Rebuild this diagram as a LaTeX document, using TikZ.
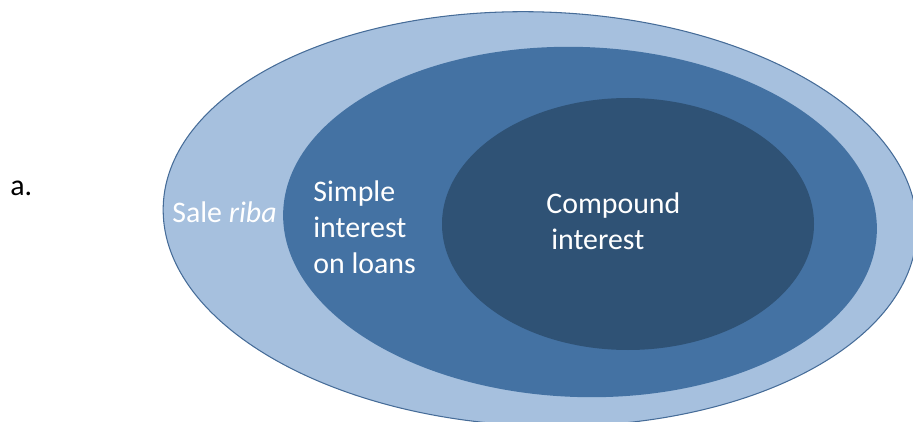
\documentclass[tikz,border=0pt]{standalone}
\usepackage{fontspec}
\setmainfont{Carlito}
\usepackage{xcolor}
\definecolor{ribaLight}{RGB}{166,192,222}
\definecolor{ribaMid}{RGB}{68,114,163}
\definecolor{ribaDark}{RGB}{47,82,117}
\definecolor{ribaLine}{RGB}{70,108,152}
\tikzset{
  lbl/.style={text=white, inner sep=0pt, anchor=base west, align=left,
    font=\fontsize{17}{20.5}\selectfont},
  plain lbl/.style={lbl, text=black}
}

\begin{document}
\begin{tikzpicture}[x=0.02cm, y=-0.02cm]
  \def\Xa{540};
  \def\Ya{219};
  \def\Xb{580};
  \def\Yb{222};
  \def\Xc{628};
  \def\Yc{224};
        \useasboundingbox (0,0) rectangle (913,422);
        \clip (0,0) rectangle (913,422);

        \draw[ribaLine, fill=ribaLight, line width=0.6pt, rotate around={-2:(\Xa,\Ya)}]
          (\Xa, \Ya) ellipse (377 and 207);
        \fill[ribaMid, rotate around={-2:(\Xb,\Yb)}] (\Xb, \Yb) ellipse (297 and 175);
        \fill[ribaDark] (\Xc, \Yc) ellipse (186 and 126);

        \node[plain lbl] (item) at (10, 196) {a.};
        \node[lbl] (sale) at (172, 223) {Sale \textit{riba}};
        \node[lbl] (simple) at (313, 274) {Simple\\interest\\on loans};
        \node[lbl] (compound) at (546, 250) {Compound\\\hspace*{7\pgflinewidth}interest};
\end{tikzpicture}
\end{document}
